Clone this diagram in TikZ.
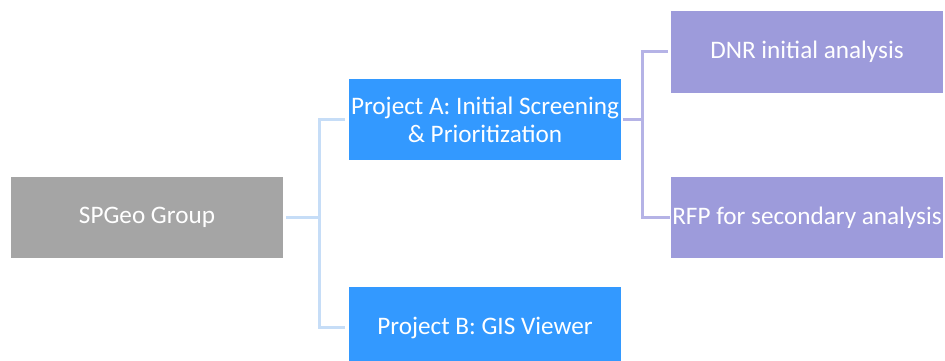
\documentclass[tikz,border=0pt]{standalone}
\usepackage{fontspec}
\setmainfont{Carlito}
\usetikzlibrary{positioning}

\definecolor{grpgray}{HTML}{A5A5A5}
\definecolor{projblue}{HTML}{3399FF}
\definecolor{taskpurple}{HTML}{9D9BDB}
\definecolor{lineblue}{HTML}{C6DDF7}
\definecolor{linepurple}{HTML}{B5B3E6}

\tikzset{
  box/.style={rectangle, minimum width=272pt, minimum height=81pt, inner sep=0pt,
    text=white, align=center, font=\fontsize{25.2}{28}\selectfont},
  grpbox/.style={box, fill=grpgray},
  projbox/.style={box, fill=projblue},
  taskbox/.style={box, fill=taskpurple},
  bline/.style={line width=3pt, lineblue},
  pline/.style={line width=3pt, linepurple}
}

\begin{document}
\begin{tikzpicture}[x=1pt, y=-1pt]
  \useasboundingbox (0,0) rectangle (945,361);

  % Cajas
  \node[grpbox] (grp) at (147,217.5) {SPGeo Group};
  \node[projbox] (projA) at (485,119.5) {Project A: Initial Screening\\ \& Prioritization};
  \node[projbox] (projB) at (485,327.5) {Project B: GIS Viewer};
  \node[taskbox] (dnr) at (807,52) {DNR initial analysis};
  \node[taskbox] (rfp) at (807,217.5) {RFP for secondary analysis};

  % Conectores del grupo
  \draw[bline] ([xshift=3pt]grp.east) -- ++(33,0) coordinate (jgrp);
  \draw[bline] (jgrp) |- ([xshift=-4pt]projA.west);
  \draw[bline] (jgrp) |- ([xshift=-4pt]projB.west);

  % Conectores del proyecto A
  \draw[pline] ([xshift=2pt]projA.east) -- ++(19,0) coordinate (jproj);
  \draw[pline] (jproj) |- ([xshift=-3pt]dnr.west);
  \draw[pline] (jproj) |- ([xshift=-1pt]rfp.west);
\end{tikzpicture}
\end{document}
